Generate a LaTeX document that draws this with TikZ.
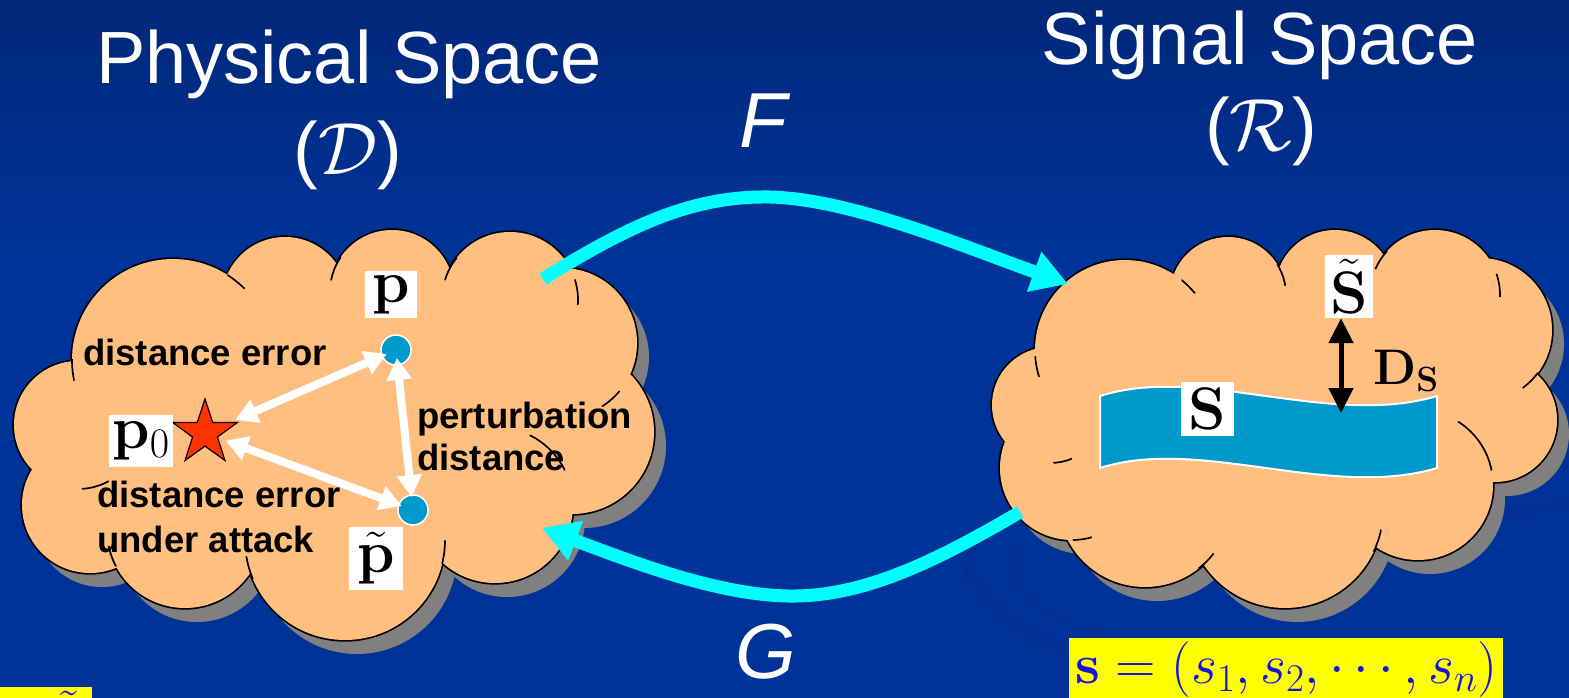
\RequirePackage{fix-cm}
\documentclass[tikz,border=0pt]{standalone}
\usepackage[no-math]{fontspec}
\setmainfont{Liberation Sans}
\usetikzlibrary{arrows.meta,shapes.geometric}
\definecolor{bgblue}{RGB}{0,51,153}
\definecolor{bgtop}{RGB}{0,40,122}
\definecolor{bgdark}{RGB}{0,44,138}
\definecolor{cloudfill}{RGB}{255,191,128}
\definecolor{shadowgrey}{RGB}{128,128,128}
\definecolor{dotblue}{RGB}{0,153,204}
\definecolor{starred}{RGB}{255,51,0}
\definecolor{arrowcyan}{RGB}{0,255,255}
\definecolor{mathblue}{RGB}{20,20,220}
\definecolor{boxyellow}{RGB}{255,255,0}
\newcommand\cloudcrease[6]{\begin{scope}\clip (#4,#5) circle[radius=#6];\draw[cloudline] (#1,#2) circle[radius=#3];\end{scope}}
\newcommand\drawcloud[2]{%
  \foreach \cx/\cy/\cr in #1 {\fill[shadowgrey] (\cx+12,\cy+14) circle[radius=\cr];}
  \fill[shadowgrey, shift={(12,14)}] #2;
  \foreach \cx/\cy/\cr in #1 {\draw[line width=3.4pt] (\cx,\cy) circle[radius=\cr];}
  \foreach \cx/\cy/\cr in #1 {\fill[cloudfill] (\cx,\cy) circle[radius=\cr];}
  \fill[cloudfill] #2;
}
\def\leftcircles{78/425/64, 90/505/68, 185/530/78, 345/540/100, 495/505/78, 572/432/82, 562/343/75, 510/300/68, 392/292/62, 285/300/63, 173/360/101}
\def\rightcircles{1050/405/58, 1072/468/72, 1145/500/87, 1285/510/98, 1418/485/75, 1495/420/62, 1480/330/72, 1435/295/65, 1335/290/60, 1228/295/58, 1125/350/90}
\begin{document}
\begin{tikzpicture}[x=1pt,y=-1pt,
  cloudline/.style={line width=1.7pt, black},
  lbl/.style={font=\fontsize{36.5}{42}\selectfont\bfseries, text=black, inner sep=0pt, anchor=base west},
  title/.style={font=\fontsize{74}{80}\selectfont, text=white, inner sep=0pt, anchor=base},
  maplbl/.style={font=\fontsize{78}{80}\selectfont\itshape, text=white, inner sep=0pt, anchor=base},
  mapping/.style={line width=13pt, arrowcyan, -{Triangle[length=36pt,width=40pt]}},
  whitebox/.style={fill=white, inner sep=0pt, font=\fontsize{60}{60}\selectfont},
  dot/.style={circle, fill=dotblue, draw=white, line width=1.5pt, minimum size=30pt, inner sep=0pt},
  dist/.style={line width=8pt, white, {Triangle[length=22pt,width=24pt]}-{Triangle[length=22pt,width=24pt]}},
  ]
\useasboundingbox (0,0) rectangle (1569,698);
% background
\fill[bgblue] (0,0) rectangle (1569,698);
\shade[top color=bgtop, bottom color=bgblue] (0,0) rectangle (1569,260);
\draw[line width=16pt, bgdark, opacity=0.35] (975,535) .. controls (950,600) and (1030,650) .. (1140,668);
\draw[line width=10pt, bgdark, opacity=0.3] (1015,545) .. controls (1000,590) and (1050,620) .. (1110,636);
\draw[line width=14pt, bgdark, opacity=0.3] (1470,522) .. controls (1510,512) and (1540,508) .. (1569,505);

% left cloud
\drawcloud{\leftcircles}{(78,425) -- (90,505) -- (185,530) -- (345,540) -- (495,505) -- (572,432) -- (562,343) -- (510,300) -- (392,292) -- (285,300) -- (173,360) -- cycle}
\cloudcrease{173}{360}{101}{72}{370}{11}
\cloudcrease{173}{360}{101}{236}{282}{11}
\cloudcrease{392}{292}{62}{334}{268}{13}
\cloudcrease{510}{300}{68}{449}{268}{13}
\cloudcrease{510}{300}{68}{577}{292}{13}
\cloudcrease{562}{343}{75}{612}{400}{12}
\cloudcrease{495}{505}{78}{545}{455}{25}
\cloudcrease{345}{540}{100}{443}{552}{12}
\cloudcrease{345}{540}{100}{248}{568}{12}
\cloudcrease{185}{530}{78}{113}{556}{11}
\cloudcrease{78}{425}{64}{95}{484}{14}

% right cloud
\drawcloud{\rightcircles}{(1050,405) -- (1072,468) -- (1145,500) -- (1285,510) -- (1418,485) -- (1495,420) -- (1480,330) -- (1435,295) -- (1335,290) -- (1228,295) -- (1125,350) -- cycle}
\cloudcrease{1125}{350}{90}{1040}{366}{11}
\cloudcrease{1125}{350}{90}{1192}{283}{11}
\cloudcrease{1228}{295}{58}{1284}{274}{12}
\cloudcrease{1435}{295}{65}{1381}{260}{11}
\cloudcrease{1435}{295}{65}{1500}{285}{12}
\cloudcrease{1480}{330}{72}{1531}{381}{11}
\cloudcrease{1418}{485}{75}{1472}{448}{30}
\cloudcrease{1072}{468}{72}{1082}{536}{10}
\cloudcrease{1145}{500}{87}{1205}{560}{11}
\cloudcrease{1285}{510}{98}{1375}{540}{12}
\cloudcrease{1050}{405}{58}{1062}{458}{10}

% titles
\node[title] (physA) at (349,84) {Physical Space};
\node[title] (physB) at (348,175) {($\mathcal{D}$)};
\node[title] (sigA) at (1260,65) {Signal Space};
\node[title] (sigB) at (1261,150) {($\mathcal{R}$)};

% mappings
\node[maplbl] (Flbl) at (763,147) {F};
\node[maplbl] (Glbl) at (766,678) {G};
\coordinate (Fs) at (543,279);
\coordinate (Fe) at (1068,284);
\coordinate (Gs) at (1020,512);
\coordinate (Ge) at (542,528);
\draw[mapping] (Fs) .. controls (640,218) and (700,196) .. (770,197) .. controls (850,199) and (960,245) .. (Fe);
\draw[mapping] (Gs) .. controls (930,565) and (860,597) .. (789,596) .. controls (720,595) and (640,565) .. (Ge);

% physical space contents
\node[dot] (pdot) at (396,350) {};
\node[dot] (ptdot) at (413,510) {};
\node[star, star points=5, star point ratio=2.6, minimum size=68pt, inner sep=0pt, fill=starred, draw=black, line width=1.2pt] (star) at (205,433) {};
\draw[dist, shorten <=33pt, shorten >=10pt] (star.center) -- (pdot.center);
\draw[dist, shorten <=22pt, shorten >=12pt] (star.center) -- (ptdot.center);
\draw[dist, shorten <=8pt, shorten >=13pt] (pdot.center) -- (ptdot.center);
\node[whitebox, minimum width=52pt, minimum height=47pt] (pbox) at (391,294.5) {$\mathbf{p}$};
\node[whitebox, minimum width=64pt, minimum height=52pt] (p0box) at (141,441) {$\mathbf{p}_0$};
\node[whitebox, minimum width=54pt, minimum height=63pt] (ptbox) at (376,558.5) {$\tilde{\mathbf{p}}$};
\node[lbl] (de1) at (83,365) {distance error};
\node[lbl] (pert) at (417,428) {perturbation};
\node[lbl] (pd) at (417,470) {distance};
\node[lbl] (de2) at (97,507) {distance error};
\node[lbl] (ua) at (97,552) {under attack};

% signal space contents
\filldraw[fill=dotblue, draw=white, line width=2pt] (1100,396) .. controls (1200,364) and (1330,428) .. (1437,396) -- (1437,468) .. controls (1330,500) and (1200,436) .. (1100,468) -- cycle;
\node[whitebox, minimum width=53pt, minimum height=54pt] (Sbox) at (1207.5,409) {$\mathbf{S}$};
\node[whitebox, minimum width=48pt, minimum height=63pt] (Stbox) at (1349,286.5) {$\tilde{\mathbf{S}}$};
\coordinate (bandtop) at (1341,413);
\draw[line width=5pt, black, {Triangle[length=25pt,width=24pt]}-{Triangle[length=25pt,width=24pt]}] ([xshift=-8pt]Stbox.south) -- (bandtop);
\node[font=\fontsize{50}{50}\selectfont, inner sep=0pt, anchor=base west] (DS) at (1373,384) {$\mathbf{D}_{\mathbf{S}}$};

% formula boxes
\node[fill=boxyellow, text=mathblue, inner xsep=6pt, inner ysep=3pt, anchor=base west, font=\fontsize{56}{56}\selectfont] (sbox) at (1069,683) {$\mathbf{s} = (s_1, s_2, \cdots, s_n)$};
\begin{scope}
\clip (0,687) rectangle (92,698);
\fill[boxyellow] (0,687) rectangle (92,698);
\node[text=mathblue, font=\fontsize{54}{54}\selectfont, inner sep=0pt, anchor=base] (cut) at (69,727) {$\tilde{\mathbf{p}}$};
\end{scope}
\end{tikzpicture}
\end{document}
